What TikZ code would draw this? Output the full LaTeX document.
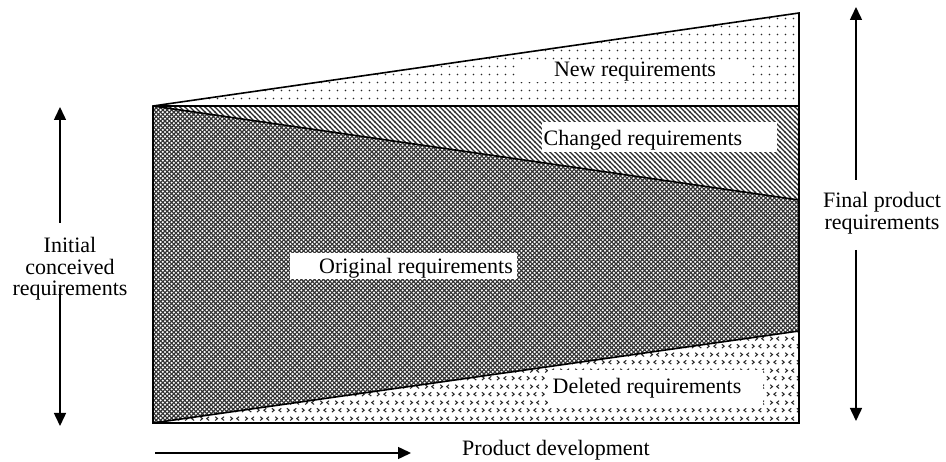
\documentclass[tikz,border=0pt]{standalone}
\usepackage{fontspec}
\setmainfont{Liberation Serif}
\usetikzlibrary{patterns,arrows.meta}

% fill patterns for the four requirement bands
\pgfdeclarepatternformonly{finedots}{\pgfqpoint{0pt}{0pt}}{\pgfqpoint{7.5pt}{7.5pt}}{\pgfqpoint{7.5pt}{7.5pt}}{%
  \pgfpathcircle{\pgfqpoint{3.75pt}{3.75pt}}{1pt}\pgfusepath{fill}}

\pgfdeclarepatternformonly{slantlines}{\pgfqpoint{-1pt}{-1pt}}{\pgfqpoint{6pt}{6pt}}{\pgfqpoint{5pt}{5pt}}{%
  \pgfsetlinewidth{1.3pt}%
  \pgfpathmoveto{\pgfqpoint{-0.5pt}{5.5pt}}\pgfpathlineto{\pgfqpoint{5.5pt}{-0.5pt}}\pgfusepath{stroke}}

\pgfdeclarepatternformonly{densehatch}{\pgfqpoint{-1pt}{-1pt}}{\pgfqpoint{5.4pt}{5.4pt}}{\pgfqpoint{4.4pt}{4.4pt}}{%
  \pgfsetlinewidth{1.1pt}%
  \pgfpathmoveto{\pgfqpoint{-0.5pt}{-0.5pt}}\pgfpathlineto{\pgfqpoint{4.9pt}{4.9pt}}%
  \pgfpathmoveto{\pgfqpoint{-0.5pt}{4.9pt}}\pgfpathlineto{\pgfqpoint{4.9pt}{-0.5pt}}\pgfusepath{stroke}}

\pgfdeclarepatternformonly{chevrons}{\pgfqpoint{0pt}{0pt}}{\pgfqpoint{15pt}{16pt}}{\pgfqpoint{15pt}{16pt}}{%
  \pgfsetlinewidth{1.1pt}%
  \pgfpathmoveto{\pgfqpoint{2pt}{6pt}}\pgfpathlineto{\pgfqpoint{4.5pt}{4pt}}\pgfpathlineto{\pgfqpoint{2pt}{2pt}}%
  \pgfpathmoveto{\pgfqpoint{12pt}{6pt}}\pgfpathlineto{\pgfqpoint{9.5pt}{4pt}}\pgfpathlineto{\pgfqpoint{12pt}{2pt}}%
  \pgfpathmoveto{\pgfqpoint{5.5pt}{14pt}}\pgfpathlineto{\pgfqpoint{8pt}{12pt}}\pgfpathlineto{\pgfqpoint{5.5pt}{10pt}}%
  \pgfpathmoveto{\pgfqpoint{15pt}{14pt}}\pgfpathlineto{\pgfqpoint{12.5pt}{12pt}}\pgfpathlineto{\pgfqpoint{15pt}{10pt}}%
  \pgfusepath{stroke}}

\tikzset{
  edge/.style={line width=1.6pt, line join=miter},
  arr/.style={line width=1.5pt, -{Triangle[length=13pt,width=12pt]}},
  whitebox/.style={fill=white, draw=none, inner sep=0pt},
  lbl/.style={inner sep=0pt, font=\fontsize{22}{21.5}\selectfont},
}

\begin{document}
\begin{tikzpicture}[x=1pt,y=-1pt]
\useasboundingbox (0,0) rectangle (946,462);

% corner points of the bands
\coordinate (apex) at (153,106);
\coordinate (topR) at (799,13);
\coordinate (midR) at (799,106);
\coordinate (chgR) at (799,200);
\coordinate (delR) at (799,331);
\coordinate (botR) at (799,423);
\coordinate (botL) at (153,423);

% bands
\fill[pattern=finedots, pattern color=black!85] (apex) -- (topR) -- (midR) -- cycle;
\fill[pattern=slantlines, pattern color=black!85] (apex) -- (midR) -- (chgR) -- cycle;
\fill[pattern=densehatch, pattern color=black!80] (apex) -- (chgR) -- (delR) -- (botL) -- cycle;
\fill[pattern=chevrons, pattern color=black!85] (botL) -- (delR) -- (botR) -- cycle;

% outlines
\draw[edge] (apex) -- (topR) -- (botR) -- (botL) -- cycle;
\draw[edge] (apex) -- (midR);
\draw[edge] (apex) -- (chgR);
\draw[edge] (botL) -- (delR);

% band labels on white boxes
\node[whitebox, minimum width=234pt, minimum height=20pt] (newbox) at (635,72) {};
\node[lbl] (newtxt) at (635,72) {New requirements};
\node[whitebox, minimum width=235pt, minimum height=30pt] (chgbox) at (659.5,137) {};
\node[lbl] (chgtxt) at (643,140) {Changed requirements};
\node[whitebox, minimum width=227pt, minimum height=26pt] (orgbox) at (403.5,266) {};
\node[lbl] (orgtxt) at (416,268) {Original requirements};
\node[whitebox, minimum width=215pt, minimum height=38pt] (delbox) at (655.5,389) {};
\node[lbl] (deltxt) at (647,388) {Deleted requirements};

% left dimension arrow
\node[lbl, align=center] (initial) at (70,269) {Initial\\conceived\\requirements};
\coordinate (iA) at (60,223);
\coordinate (iTop) at (60,107);
\coordinate (iB) at (60,288);
\coordinate (iBot) at (60,426);
\draw[arr] (iA) -- (iTop);
\draw[arr] (iB) -- (iBot);

% right dimension arrow
\node[lbl, align=center] (final) at (882,213) {Final product\\requirements};
\coordinate (fA) at (856,180);
\coordinate (fTop) at (856,7);
\coordinate (fB) at (856,250);
\coordinate (fBot) at (856,421);
\draw[arr] (fA) -- (fTop);
\draw[arr] (fB) -- (fBot);

% time axis
\coordinate (tA) at (155,453);
\coordinate (tB) at (411,453);
\draw[arr] (tA) -- (tB);
\node[lbl] (dev) at (556,450) {Product development};
\end{tikzpicture}
\end{document}
